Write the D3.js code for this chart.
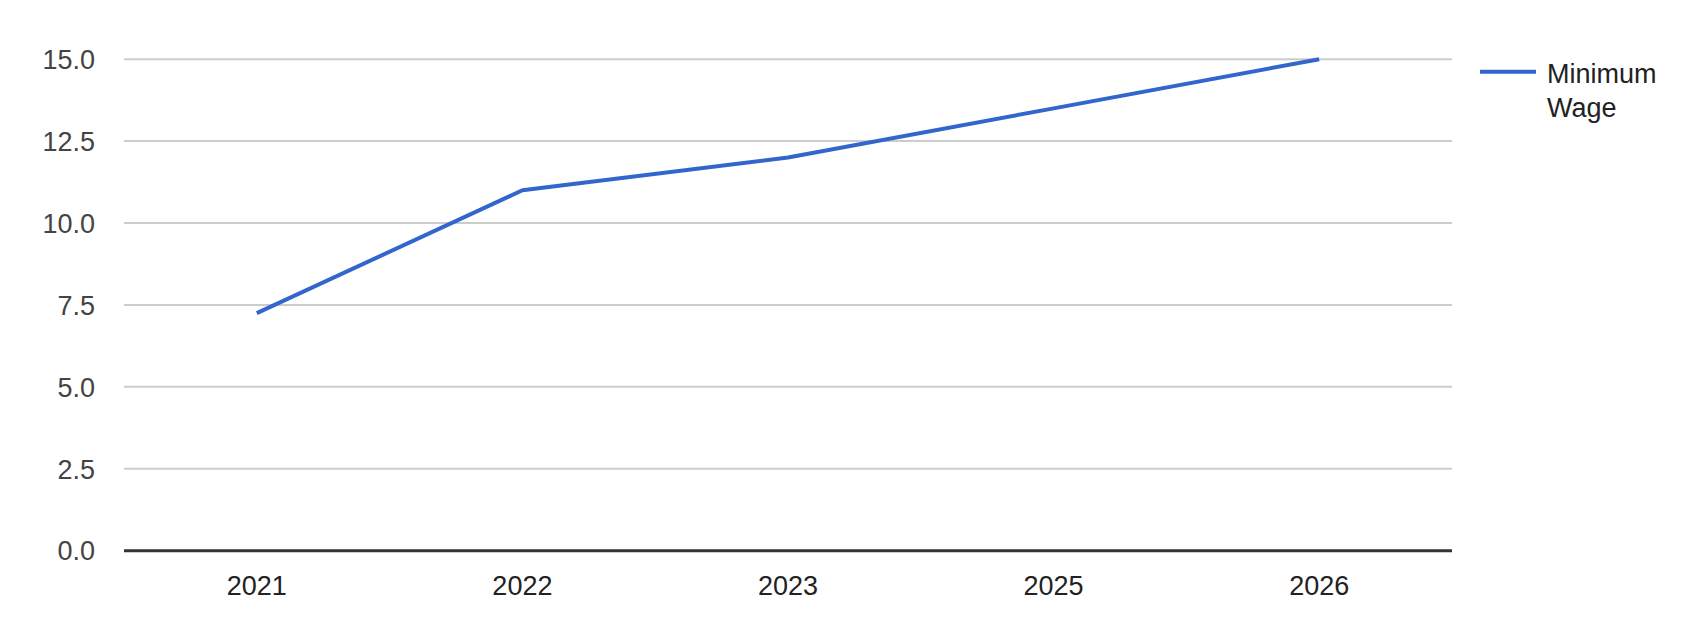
<!DOCTYPE html>
<html><head><meta charset="utf-8">
<script src="https://cdn.jsdelivr.net/npm/d3@7"></script>
<style>body{margin:0;background:#fff}svg{display:block;font-family:Arial,"Liberation Sans",sans-serif}</style>
</head><body>
<svg id="c" width="1690" height="632"></svg>
<script>
const categories = ["2021","2022","2023","2025","2026"];
const wages = [7.25, 11.0, 12.0, 13.5, 15.0];
const yTicks = [0, 2.5, 5, 7.5, 10, 12.5, 15];
const seriesName = ["Minimum", "Wage"];

(function () {
const svg = d3.select("#c");
const pLeft = 124, pRight = 1452, pTop = 59.2, pBottom = 550.7;
const x = d3.scaleBand().domain(categories).range([pLeft, pRight]).padding(0);
const y = d3.scaleLinear().domain([0, 15]).range([pBottom, pTop]);

// gridlines
svg.append("g").selectAll("line").data(yTicks.filter(d => d !== 0)).join("line")
  .attr("x1", pLeft).attr("x2", pRight)
  .attr("y1", d => y(d)).attr("y2", d => y(d))
  .attr("stroke", "#cccccc").attr("stroke-width", 2);

// y labels
svg.append("g").selectAll("text").data(yTicks).join("text")
  .attr("x", 95).attr("y", d => y(d)).attr("dy", "0.36em")
  .attr("text-anchor", "end").attr("font-size", 27).attr("fill", "#444")
  .text(d => d3.format(".1f")(d));

// baseline
svg.append("line").attr("x1", pLeft).attr("x2", pRight)
  .attr("y1", y(0)).attr("y2", y(0)).attr("stroke", "#333").attr("stroke-width", 3);

// x labels
svg.append("g").selectAll("text").data(categories).join("text")
  .attr("x", d => x(d) + x.bandwidth() / 2).attr("y", 595)
  .attr("text-anchor", "middle").attr("font-size", 27).attr("fill", "#222")
  .text(d => d);

// line
const line = d3.line().x((d, i) => x(categories[i]) + x.bandwidth() / 2).y(d => y(d));
svg.append("path").datum(wages).attr("d", line)
  .attr("fill", "none").attr("stroke", "#3366cc").attr("stroke-width", 4)
  .attr("stroke-linejoin", "round");

// legend
svg.append("line").attr("x1", 1480).attr("x2", 1536).attr("y1", 71.7).attr("y2", 71.7)
  .attr("stroke", "#3366cc").attr("stroke-width", 4);
svg.append("g").selectAll("text").data(seriesName).join("text")
  .attr("x", 1547).attr("y", (d, i) => 82.7 + i * 34.6)
  .attr("font-size", 27).attr("fill", "#222").text(d => d);
})();
</script>
</body></html>
